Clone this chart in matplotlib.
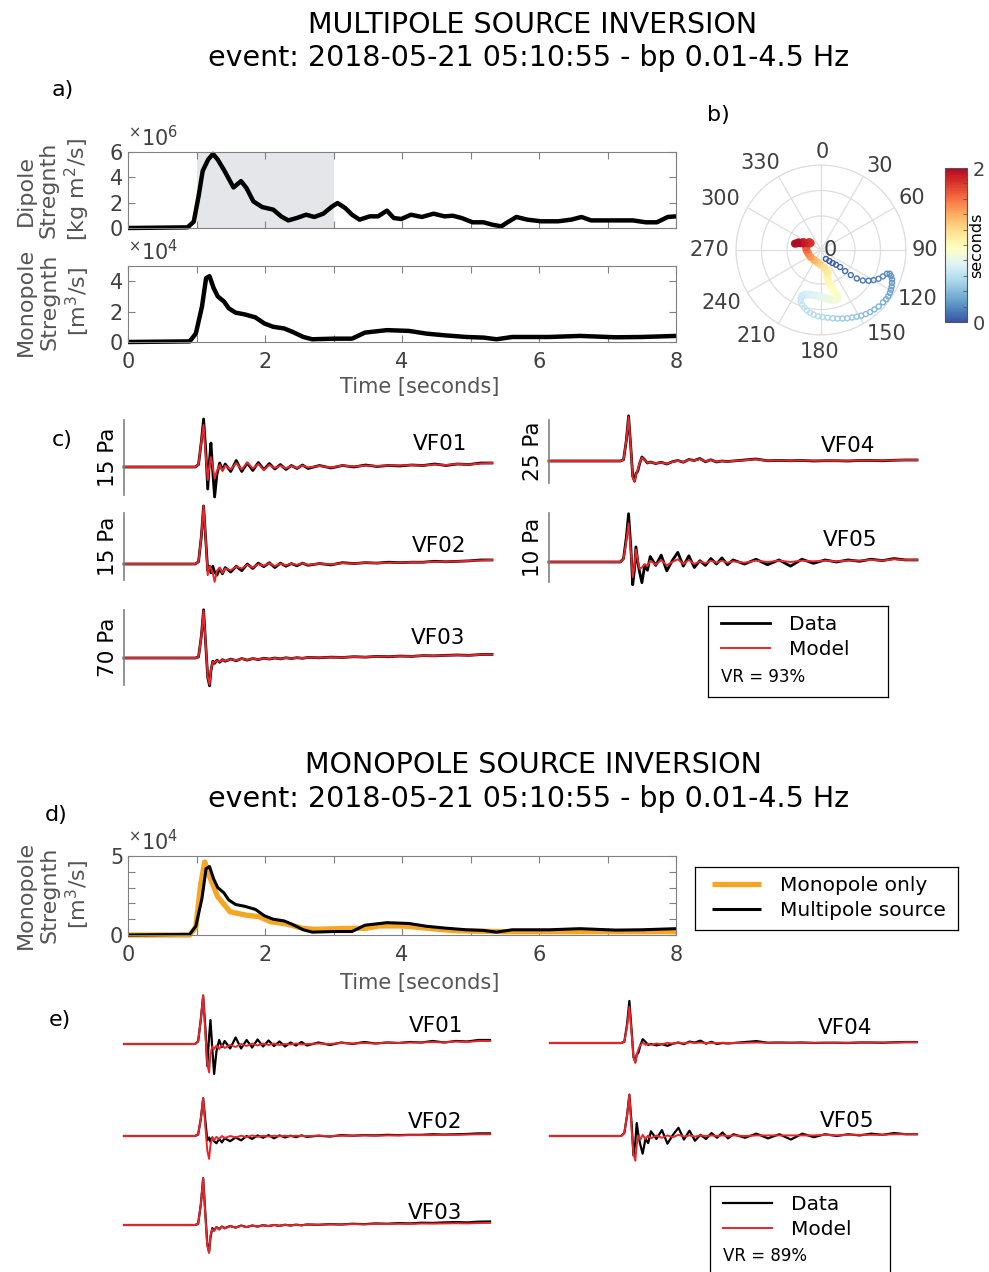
import matplotlib
matplotlib.use("Agg")
import matplotlib.pyplot as plt
import numpy as np
from matplotlib.colors import LinearSegmentedColormap, Normalize
from matplotlib.cm import ScalarMappable
from matplotlib.ticker import FixedLocator, MultipleLocator

# ---------------- data ----------------
# a) source time functions (dipole in 1e6 kg m^2/s, monopole in 1e4 m^3/s)
dip_t = [0, 0.87, 0.96, 1.03, 1.09, 1.17, 1.24, 1.31, 1.41, 1.54, 1.65, 1.73, 1.83, 1.96,
         2.12, 2.24, 2.34, 2.47, 2.6, 2.72, 2.85, 2.98, 3.06, 3.17, 3.27, 3.38, 3.53, 3.65,
         3.78, 3.88, 3.99, 4.13, 4.29, 4.46, 4.62, 4.74, 4.87, 5.03, 5.19, 5.32, 5.45, 5.54,
         5.67, 5.83, 6.03, 6.28, 6.47, 6.62, 6.76, 7.12, 7.37, 7.56, 7.72, 7.88, 8.0]
dip_val = [0, 0.05, 0.5, 2.5, 4.5, 5.4, 5.85, 5.4, 4.5, 3.2, 3.7, 3.15, 2.1, 1.65,
           1.45, 0.9, 0.6, 0.8, 1.05, 0.87, 1.13, 1.7, 1.97, 1.58, 1.05, 0.66, 0.92, 0.92,
           1.37, 0.79, 0.71, 1.05, 0.87, 1.13, 0.92, 0.97, 0.79, 0.45, 0.45, 0.26, 0.13, 0.45,
           0.87, 0.66, 0.53, 0.53, 0.66, 0.87, 0.6, 0.6, 0.6, 0.45, 0.45, 0.87, 0.92]

mono_t = [0, 0.9, 0.99, 1.08, 1.14, 1.19, 1.25, 1.31, 1.4, 1.47, 1.57, 1.7, 1.86, 1.99,
          2.12, 2.28, 2.4, 2.56, 2.69, 3.01, 3.27, 3.46, 3.78, 4.1, 4.36, 4.62, 4.94, 5.19,
          5.38, 5.61, 6.15, 6.6, 7.12, 7.5, 8.0]
mono_val = [0, 0.04, 0.55, 2.33, 4.2, 4.33, 3.55, 3.0, 2.67, 2.22, 1.93, 1.82, 1.62, 1.22,
            1.0, 0.89, 0.67, 0.33, 0.18, 0.22, 0.22, 0.62, 0.78, 0.73, 0.55, 0.44, 0.33, 0.29,
            0.18, 0.33, 0.33, 0.4, 0.31, 0.33, 0.4]

# d) monopole-only inversion (1e4 m^3/s)
mono_only_t = [0, 0.9, 0.99, 1.06, 1.12, 1.2, 1.31, 1.49, 1.72, 1.91, 2.09, 2.32, 2.55, 2.73,
               3.2, 3.47, 3.66, 4.02, 4.39, 4.76, 5.5, 6.42, 7.34, 8.0]
mono_only_val = [0, 0.0, 0.5, 3.2, 4.62, 3.6, 2.42, 1.47, 1.26, 1.16, 0.84, 0.69, 0.42, 0.36,
                 0.42, 0.42, 0.57, 0.57, 0.42, 0.27, 0.21, 0.21, 0.21, 0.21]

# b) dipole direction (deg clockwise from north), normalised strength, time (s)
dir_theta = [151, 142.9, 138.1, 134.4, 131.8, 131.2, 130.1, 128.5, 126.1, 122.9, 119.8, 116.6,
             113.1, 109.8, 109.1,
             110.4, 112.5, 114.8, 117.2, 119.6, 122, 124.6, 127.1,
             130.2, 134.4, 138, 141.7, 145.1, 148.5, 151.9, 155.3, 158.9, 162.6, 166.4, 170.3,
             174.4, 178.6, 182.6, 186.5, 190, 193.1, 196.1, 199.2, 201.6, 202.8,
             202.4, 200.1, 196.3, 191.8, 187.1, 182.5, 178, 173.7, 169.7, 166.1, 163.2, 161.1,
             160.8, 161.6, 162.9, 164.5, 165.8, 166.7, 166.5,
             163.8, 164.2, 170.2, 181.3,
             196.6, 215, 235.9, 253.9, 268.7, 280.1,
             294.1, 304.4, 304.1, 297.1, 294.4, 291.4, 288.2, 288.7, 285.7, 283.7]
dir_r = [0.12, 0.163, 0.206, 0.248, 0.301, 0.377, 0.458, 0.538, 0.609, 0.666, 0.713, 0.757,
         0.792, 0.824, 0.854,
         0.88, 0.905, 0.92, 0.935, 0.945, 0.955, 0.96, 0.96,
         0.955, 0.95, 0.94, 0.93, 0.92, 0.905, 0.89, 0.875, 0.86, 0.845, 0.83, 0.815,
         0.80, 0.79, 0.78, 0.765, 0.75, 0.73, 0.706, 0.68, 0.65, 0.62,
         0.585, 0.56, 0.545, 0.537, 0.538, 0.546, 0.557, 0.572, 0.59, 0.606, 0.61, 0.593,
         0.56, 0.52, 0.48, 0.44, 0.40, 0.358, 0.319,
         0.28, 0.245, 0.207, 0.173,
         0.151, 0.144, 0.147, 0.155, 0.169, 0.179,
         0.163, 0.167, 0.147, 0.181, 0.228, 0.215, 0.252, 0.28, 0.29, 0.315]
dir_time = [0.0, 0.015, 0.03, 0.045, 0.06, 0.075, 0.09, 0.105, 0.12, 0.135, 0.15, 0.165,
            0.18, 0.195, 0.21,
            0.225, 0.24, 0.255, 0.27, 0.285, 0.30, 0.315, 0.33,
            0.345, 0.36, 0.375, 0.39, 0.405, 0.42, 0.435, 0.45, 0.465, 0.48, 0.495, 0.51,
            0.525, 0.54, 0.555, 0.57, 0.585, 0.60, 0.615, 0.63, 0.645, 0.66,
            0.68, 0.70, 0.72, 0.74, 0.76, 0.78, 0.80, 0.82, 0.84, 0.86, 0.88, 0.90,
            0.92, 0.94, 0.96, 0.98, 1.00, 1.02, 1.04,
            1.08, 1.12, 1.16, 1.20,
            1.28, 1.36, 1.44, 1.52, 1.60, 1.66,
            1.72, 1.76, 1.80, 1.84, 1.87, 1.90, 1.93, 1.95, 1.98, 2.0]
theta_labels = ["0", "30", "60", "90", "120", "150", "180", "210", "240", "270", "300", "330"]

# c) / e) waveforms in Pa on a common time axis
wave_t = [0.0, 1.55, 1.62, 1.68, 1.73, 1.78, 1.82, 1.86, 1.89, 1.93, 1.97, 2.02, 2.08, 2.14,
          2.2, 2.32, 2.44, 2.56, 2.68, 2.8, 2.92, 3.04, 3.16, 3.28, 3.4, 3.52, 3.64, 3.76, 3.88, 4.0,
          4.25, 4.5, 4.75, 5.0, 5.25, 5.5, 5.75, 6.0, 6.25, 6.5, 6.75, 7.0, 7.25, 7.5, 7.75, 8.0]
stations = ["VF01", "VF02", "VF03", "VF04", "VF05"]

data_vf01 = [0, 0, 0.5, 5.0, 9.6, 3.0, -4.4, 1.5, 4.8, -1.0, -6.0, -1.5, 0.8, -0.6,
             0.6, -0.9, 1.3, -0.9, 0.8, -0.7, 0.9, -0.5, 0.7, -0.4, 0.5, -0.5, 0.3, -0.3, 0.4, -0.3,
             0.3, -0.2, 0.3, 0.0, 0.4, 0.1, 0.3, 0.2, 0.4, 0.3, 0.6, 0.3, 0.6, 0.5, 0.8, 0.8]
data_vf02 = [0, 0, 0.5, 6.0, 13.0, 5.0, -1.5, -0.5, -2.0, -0.5, -1.8, -2.5, -1.0, -2.2,
             -0.8, -1.8, -0.5, -1.5, 0.0, -1.0, 0.2, -0.6, 0.3, -0.8, 0.2, -0.5, 0.1, -0.4, 0.2, -0.3,
             0.1, -0.2, 0.3, 0.1, 0.3, 0.2, 0.4, 0.3, 0.4, 0.4, 0.6, 0.5, 0.6, 0.7, 0.9, 0.9]
data_vf03 = [0, 0, 1.0, 20.0, 45.0, 10.0, -18.0, -26.0, -12.0, -3.0, -5.0, -2.0, -4.0, -1.5,
             -3.0, -1.0, -2.5, -0.5, -2.0, -0.5, -1.5, -0.2, -1.0, 0.0, -0.8, 0.2, -0.5, 0.3, -0.3, 0.5,
             0.2, 0.8, 0.5, 1.2, 0.8, 1.5, 1.2, 1.8, 1.5, 2.2, 2.0, 2.5, 2.8, 2.5, 3.2, 3.4]
data_vf04 = [0, 0, 0.5, 8.0, 17.9, 5.0, -6.0, -8.0, -5.0, -4.0, -1.0, 1.6, 0.5, -0.8,
             -0.4, -1.0, -0.5, -1.2, -0.3, 0.2, -0.5, 0.6, 0.2, 1.0, -0.3, 0.5, -0.4, 0.0, -0.2, 0.0,
             0.4, 0.8, 0.1, 0.2, 0.1, 0.2, 0.0, 0.1, 0.1, 0.0, 0.2, 0.2, 0.1, 0.3, 0.4, 0.4]
data_vf05 = [0, 0, 0.5, 3.5, 7.0, 2.0, -3.3, -1.0, 2.2, 0.0, -1.5, -3.0, -0.5, -1.2,
             0.8, -0.5, 1.0, -1.3, 0.2, 1.4, -0.6, 0.9, -0.8, 0.2, -0.5, 0.5, -0.3, 0.6, -0.4, 0.3,
             -0.3, 0.4, -0.4, 0.3, -0.6, 0.4, -0.2, 0.3, 0.0, 0.3, 0.1, 0.4, 0.2, 0.5, 0.3, 0.3]

multi_vf01 = [0, 0, 0.5, 5.0, 8.4, 2.0, -2.6, 0.5, 2.0, 0.0, -2.3, -0.8, 0.4, -0.8,
              0.3, -0.5, 0.8, -0.5, 0.9, -0.3, 0.6, -0.6, 0.4, -0.2, 0.3, -0.3, 0.2, -0.2, 0.3, -0.1,
              0.2, -0.1, 0.3, 0.1, 0.3, 0.2, 0.3, 0.3, 0.4, 0.3, 0.5, 0.4, 0.6, 0.5, 0.7, 0.8]
multi_vf02 = [0, 0, 0.5, 6.0, 13.0, 5.0, -2.5, -0.5, -1.0, -2.0, -4.0, -1.5, -0.8, -2.0,
              -1.0, -1.4, -0.6, -1.0, -0.2, -0.8, 0.0, -0.4, 0.2, -0.5, 0.1, -0.3, 0.1, -0.2, 0.2, -0.2,
              0.1, -0.1, 0.2, 0.1, 0.3, 0.2, 0.3, 0.3, 0.4, 0.4, 0.5, 0.5, 0.6, 0.7, 0.8, 0.9]
multi_vf03 = [0, 0, 1.0, 20.0, 44.0, 10.0, -17.0, -25.0, -11.0, -3.5, -4.5, -2.5, -3.5, -1.8,
              -2.6, -1.2, -2.2, -0.7, -1.8, -0.6, -1.3, -0.3, -0.9, -0.1, -0.7, 0.1, -0.4, 0.3, -0.2, 0.4,
              0.3, 0.7, 0.6, 1.1, 0.9, 1.4, 1.3, 1.7, 1.6, 2.1, 2.0, 2.4, 2.7, 2.5, 3.1, 3.4]
multi_vf04 = [0, 0, 0.5, 8.0, 17.5, 5.0, -6.5, -8.2, -5.5, -3.5, -0.8, 1.4, 0.4, -0.7,
              -0.5, -0.9, -0.6, -1.1, -0.4, 0.1, -0.4, 0.5, 0.2, 0.8, -0.2, 0.4, -0.3, 0.0, -0.2, 0.0,
              0.3, 0.7, 0.1, 0.2, 0.1, 0.2, 0.1, 0.1, 0.1, 0.1, 0.2, 0.2, 0.2, 0.3, 0.4, 0.4]
multi_vf05 = [0, 0, 0.5, 3.0, 5.6, 1.5, -2.2, -0.5, 1.8, 0.3, -1.0, -0.8, -0.3, -0.6,
              0.2, -0.4, 0.3, -0.5, 0.0, 0.4, -0.3, 0.3, -0.3, 0.1, -0.2, 0.2, -0.1, 0.2, -0.1, 0.1,
              -0.1, 0.2, 0.0, 0.2, 0.0, 0.2, 0.1, 0.2, 0.1, 0.2, 0.2, 0.3, 0.2, 0.4, 0.3, 0.3]

monoinv_vf01 = [0, 0, 0.5, 5.0, 9.8, 2.0, -4.0, -5.7, -2.0, -0.5, -1.0, -0.3, -1.0, -0.2,
                -0.8, -0.2, -0.6, 0.0, -0.4, 0.1, -0.3, 0.1, -0.2, 0.1, -0.2, 0.0, -0.1, 0.1, -0.1, 0.0,
                0.1, 0.0, 0.2, 0.1, 0.2, 0.1, 0.3, 0.2, 0.3, 0.3, 0.4, 0.3, 0.5, 0.4, 0.6, 0.6]
monoinv_vf02 = [0, 0, 0.5, 6.0, 13.0, 3.0, -5.0, -7.9, -3.0, -0.5, -1.5, -0.3, -1.0, 0.0,
                -0.7, 0.0, -0.5, 0.1, -0.4, 0.2, -0.3, 0.1, -0.2, 0.1, -0.1, 0.1, -0.1, 0.1, 0.0, 0.0,
                0.1, 0.0, 0.1, 0.1, 0.2, 0.1, 0.2, 0.2, 0.3, 0.3, 0.3, 0.4, 0.4, 0.5, 0.6, 0.6]
monoinv_vf03 = [0, 0, 1.0, 20.0, 45.0, 8.0, -20.0, -27.0, -10.0, -4.0, -6.0, -2.0, -4.5, -1.5,
                -3.5, -1.0, -2.5, -0.8, -2.0, -0.5, -1.5, -0.3, -1.0, 0.0, -0.8, 0.2, -0.5, 0.3, -0.3, 0.4,
                0.2, 0.6, 0.4, 0.9, 0.6, 1.0, 0.9, 1.2, 1.0, 1.4, 1.3, 1.5, 1.7, 1.5, 1.9, 2.0]
monoinv_vf04 = [0, 0, 0.5, 7.0, 15.4, 4.0, -6.0, -8.5, -5.0, -2.5, -1.0, 0.2, -0.8, -0.3,
                -0.8, -0.2, -0.6, 0.1, -0.3, 0.2, -0.2, 0.3, 0.0, 0.2, -0.1, 0.1, 0.0, 0.1, 0.0, 0.0,
                0.1, 0.2, 0.1, 0.1, 0.1, 0.1, 0.1, 0.1, 0.1, 0.1, 0.2, 0.2, 0.2, 0.2, 0.3, 0.3]
monoinv_vf05 = [0, 0, 0.5, 3.5, 7.0, 1.0, -3.0, -4.2, -1.5, 0.0, -0.6, 0.2, -0.5, 0.1,
                -0.4, 0.1, -0.3, 0.1, -0.2, 0.2, -0.1, 0.1, -0.1, 0.1, 0.0, 0.1, 0.0, 0.1, 0.0, 0.1,
                0.0, 0.1, 0.1, 0.1, 0.1, 0.1, 0.1, 0.2, 0.1, 0.2, 0.2, 0.2, 0.2, 0.3, 0.3, 0.3]

scale_labels = ["15 Pa", "15 Pa", "70 Pa", "25 Pa", "10 Pa"]
scale_pa = [15, 15, 70, 25, 10]
vr_multi = "VR = 93%"
vr_mono = "VR = 89%"

data_all = [data_vf01, data_vf02, data_vf03, data_vf04, data_vf05]
multi_all = [multi_vf01, multi_vf02, multi_vf03, multi_vf04, multi_vf05]
monoinv_all = [monoinv_vf01, monoinv_vf02, monoinv_vf03, monoinv_vf04, monoinv_vf05]

# ---------------- style ----------------
W, H = 989, 1272
SPINE = "#808080"
LABEL = "#404040"
TXT = "#555555"
RED = "#e8262b"
ORANGE = "#f5a623"
plt.rcParams["font.family"] = ["DejaVu Sans"]

fig = plt.figure(figsize=(W / 100, H / 100), dpi=100)


def px_axes(left, top, right, bottom, **kw):
    return fig.add_axes([left / W, 1 - bottom / H, (right - left) / W, (bottom - top) / H], **kw)


def px_text(x, y, s, **kw):
    kw.setdefault("ha", "center")
    kw.setdefault("va", "center")
    return fig.text(x / W, 1 - y / H, s, **kw)


def style_stf(ax, ymax, yticks, yminor=None, xlabels=True):
    ax.set_xlim(0, 8)
    ax.set_ylim(0, ymax)
    ax.set_xticks([0, 2, 4, 6, 8])
    ax.xaxis.set_minor_locator(FixedLocator([1, 3, 5, 7]))
    ax.set_yticks(yticks)
    if yminor:
        ax.yaxis.set_minor_locator(FixedLocator(yminor))
    ax.tick_params(which="both", direction="in", top=True, right=True, length=5,
                   width=0.8, color=SPINE, labelcolor=LABEL, labelsize=15)
    ax.tick_params(axis="x", pad=7)
    if not xlabels:
        ax.tick_params(labelbottom=False)
    for sp in ax.spines.values():
        sp.set_color(SPINE)
        sp.set_linewidth(0.8)


def legend_lines(handles, labels, anchor):
    return fig.legend(handles, labels, loc="upper left",
                      bbox_to_anchor=(anchor[0] / W, 1 - anchor[1] / H), frameon=False,
                      fontsize=14.5, handlelength=2.45, handletextpad=0.95, labelspacing=0.3,
                      borderpad=0, borderaxespad=0)


def frame_box(left, top, right, bottom):
    box = px_axes(left, top, right, bottom)
    box.set_xticks([])
    box.set_yticks([])
    for sp in box.spines.values():
        sp.set_color("black")
        sp.set_linewidth(0.9)
    return box


# ---------------- titles ----------------
for y1, y2, head in [(25, 58, "MULTIPOLE SOURCE INVERSION"), (765, 799, "MONOPOLE SOURCE INVERSION")]:
    px_text(533, y1, head, fontsize=20.5, color="black")
    px_text(529, y2, "event: 2018-05-21 05:10:55 - bp 0.01-4.5 Hz", fontsize=20.5, color="black")

for lab, (x, y) in zip(["a)", "b)", "c)", "d)", "e)"],
                       [(63, 90), (718, 115), (62, 440), (56, 815), (60, 1020)]):
    px_text(x, y, lab, fontsize=16)

# ---------------- a) ----------------
ax_dip = px_axes(128, 152, 676, 228)
ax_dip.axvspan(1, 3, color="#e5e6ea", lw=0, zorder=0)
ax_dip.plot(dip_t, dip_val, color="black", lw=3.2, clip_on=False, solid_capstyle="butt")
style_stf(ax_dip, 6, [0, 2, 4, 6], xlabels=False)
px_text(128, 150, r"${}^{\times}10^{6}$", fontsize=15, color=LABEL, ha="left", va="bottom")

ax_mon = px_axes(128, 266, 676, 342)
ax_mon.plot(mono_t, mono_val, color="black", lw=3.2, clip_on=False, solid_capstyle="butt")
style_stf(ax_mon, 5, [0, 2, 4])
px_text(128, 264, r"${}^{\times}10^{4}$", fontsize=15, color=LABEL, ha="left", va="bottom")
px_text(420, 387, "Time [seconds]", fontsize=15, color=TXT)

px_text(54, 190, "Dipole\nStregnth\n[kg m$^2$/s]", fontsize=16, color=TXT, rotation=90,
        linespacing=1.2, multialignment="center")
px_text(54, 302, "Monopole\nStregnth\n[m$^3$/s]", fontsize=16, color=TXT, rotation=90,
        linespacing=1.2, multialignment="center")

# ---------------- b) ----------------
cmap = LinearSegmentedColormap.from_list(
    "rdylbu_soft", plt.get_cmap("RdYlBu_r")(np.linspace(0.05, 0.98, 256)))
norm = Normalize(0, 2)
axp = px_axes(736, 165, 906, 335, projection="polar")
axp.set_theta_zero_location("N")
axp.set_theta_direction(-1)
axp.set_thetagrids(list(range(0, 360, 30)), labels=[])
axp.set_rgrids([0.4, 0.7, 1.0], labels=[])
axp.set_ylim(0, 1)
axp.grid(color="#dedede", lw=0.9)
axp.spines["polar"].set_color("#dedede")
axp.patch.set_visible(False)
# label placement around the dial (angle, radius) as laid out in the figure
label_pos_deg = [1, 35, 60, 90, 117, 142, 181, 217, 242, 270, 297, 325]
label_r = [1.15, 1.2, 1.23, 1.22, 1.27, 1.25, 1.2, 1.27, 1.33, 1.31, 1.33, 1.25]
for ang, lab, rr in zip(label_pos_deg, theta_labels, label_r):
    axp.text(np.deg2rad(ang), rr, lab, fontsize=15, color=LABEL, ha="center", va="center",
             clip_on=False)

th = np.deg2rad(dir_theta)
tt = np.array(dir_time)
early = tt < 0.67
axp.scatter(th[early], np.array(dir_r)[early], s=13, facecolors="none",
            edgecolors=cmap(norm(tt[early])), linewidths=1.0, clip_on=False, zorder=3)
axp.scatter(th[~early], np.array(dir_r)[~early], s=34, c=tt[~early], cmap=cmap, norm=norm,
            edgecolors="none", clip_on=False, zorder=3)
axp.text(np.deg2rad(90), 0.03, "0", fontsize=15, color=LABEL, ha="left", va="center")

cax = px_axes(945, 168, 967, 322)
cb = fig.colorbar(ScalarMappable(norm=norm, cmap=cmap), cax=cax)
cb.set_ticks([0, 2])
cax.yaxis.set_minor_locator(MultipleLocator(0.2))
cax.tick_params(which="both", direction="in", color="#555555", labelsize=14,
                labelcolor=LABEL, length=3, width=0.6, pad=4)
cb.outline.set_edgecolor("#555555")
cb.set_label("seconds", fontsize=11.5, color="black", labelpad=-11)

# ---------------- waveform helper ----------------
def wave_axes(left, right, top, bottom, base, ppu):
    ax = px_axes(left, top, right, bottom)
    ax.set_xlim(0, 8)
    ax.set_ylim(-(bottom - base) / ppu, (base - top) / ppu)
    ax.set_xticks([])
    ax.set_yticks([])
    ax.patch.set_visible(False)
    for k in ["top", "right", "bottom", "left"]:
        ax.spines[k].set_visible(False)
    return ax


# ---------------- c) multipole fits ----------------
# (left, right, bar_top, bar_bottom, baseline) in pixels
c_geom = [(124, 492, 420, 495, 467), (124, 492, 513, 580, 564), (124, 492, 610, 685, 658),
          (549, 917, 420, 483, 461), (549, 917, 513, 582, 562)]
c_name_xy = [(440, 444), (439, 546), (438, 638), (848, 446), (850, 540)]
for i, st in enumerate(stations):
    l, r, tp, bt, base = c_geom[i]
    ax = wave_axes(l, r, tp, bt, base, (bt - tp) / scale_pa[i])
    ax.spines["left"].set_visible(True)
    ax.spines["left"].set_color(SPINE)
    ax.spines["left"].set_linewidth(1.2)
    ax.set_ylabel(scale_labels[i], fontsize=15.5, labelpad=4)
    hd, = ax.plot(wave_t, data_all[i], color="black", lw=2.0, clip_on=False)
    hm, = ax.plot(wave_t, multi_all[i], color=RED, lw=1.4, clip_on=False)
    px_text(*c_name_xy[i], st, fontsize=15.5)
    if i == 0:
        c_handles = [hd, hm]

frame_box(708, 606, 888, 697)
legend_lines(c_handles, ["Data", "Model"], (721, 615))
px_text(721, 677, vr_multi, fontsize=12, ha="left")

# ---------------- d) ----------------
ax_d = px_axes(128, 856, 676, 935)
h_mo, = ax_d.plot(mono_only_t, mono_only_val, color=ORANGE, lw=3.8, clip_on=False,
                  solid_capstyle="butt")
h_mu, = ax_d.plot(mono_t, mono_val, color="black", lw=2.2, clip_on=False, solid_capstyle="butt")
style_stf(ax_d, 5, [0, 5], yminor=[1, 2, 3, 4])
px_text(128, 854, r"${}^{\times}10^{4}$", fontsize=15, color=LABEL, ha="left", va="bottom")
px_text(420, 983, "Time [seconds]", fontsize=15, color=TXT)
px_text(54, 895, "Monopole\nStregnth\n[m$^3$/s]", fontsize=16, color=TXT, rotation=90,
        linespacing=1.2, multialignment="center")
frame_box(695, 867, 958, 930)
legend_lines([h_mo, h_mu], ["Monopole only", "Multipole source"], (712, 876))

# ---------------- e) monopole fits ----------------
# (left, right, baseline, px per Pa)
e_geom = [(124, 490, 1044, 5.0), (124, 490, 1136, 2.9), (124, 490, 1225, 1.04),
          (550, 917, 1043, 2.35), (550, 917, 1136, 5.9)]
e_name_xy = [(436, 1026), (435, 1122), (435, 1213), (845, 1028), (847, 1121)]
for i, st in enumerate(stations):
    l, r, base, ppu = e_geom[i]
    ax = wave_axes(l, r, base - 50, base + 35, base, ppu)
    hd, = ax.plot(wave_t, data_all[i], color="black", lw=1.6, clip_on=False)
    hm, = ax.plot(wave_t, monoinv_all[i], color=RED, lw=1.4, clip_on=False)
    px_text(*e_name_xy[i], st, fontsize=15.5)
    if i == 0:
        e_handles = [hd, hm]

frame_box(710, 1186, 890, 1290)
legend_lines(e_handles, ["Data", "Model"], (723, 1195))
px_text(723, 1256, vr_mono, fontsize=12, ha="left")

fig.savefig("out.png", dpi=100)
